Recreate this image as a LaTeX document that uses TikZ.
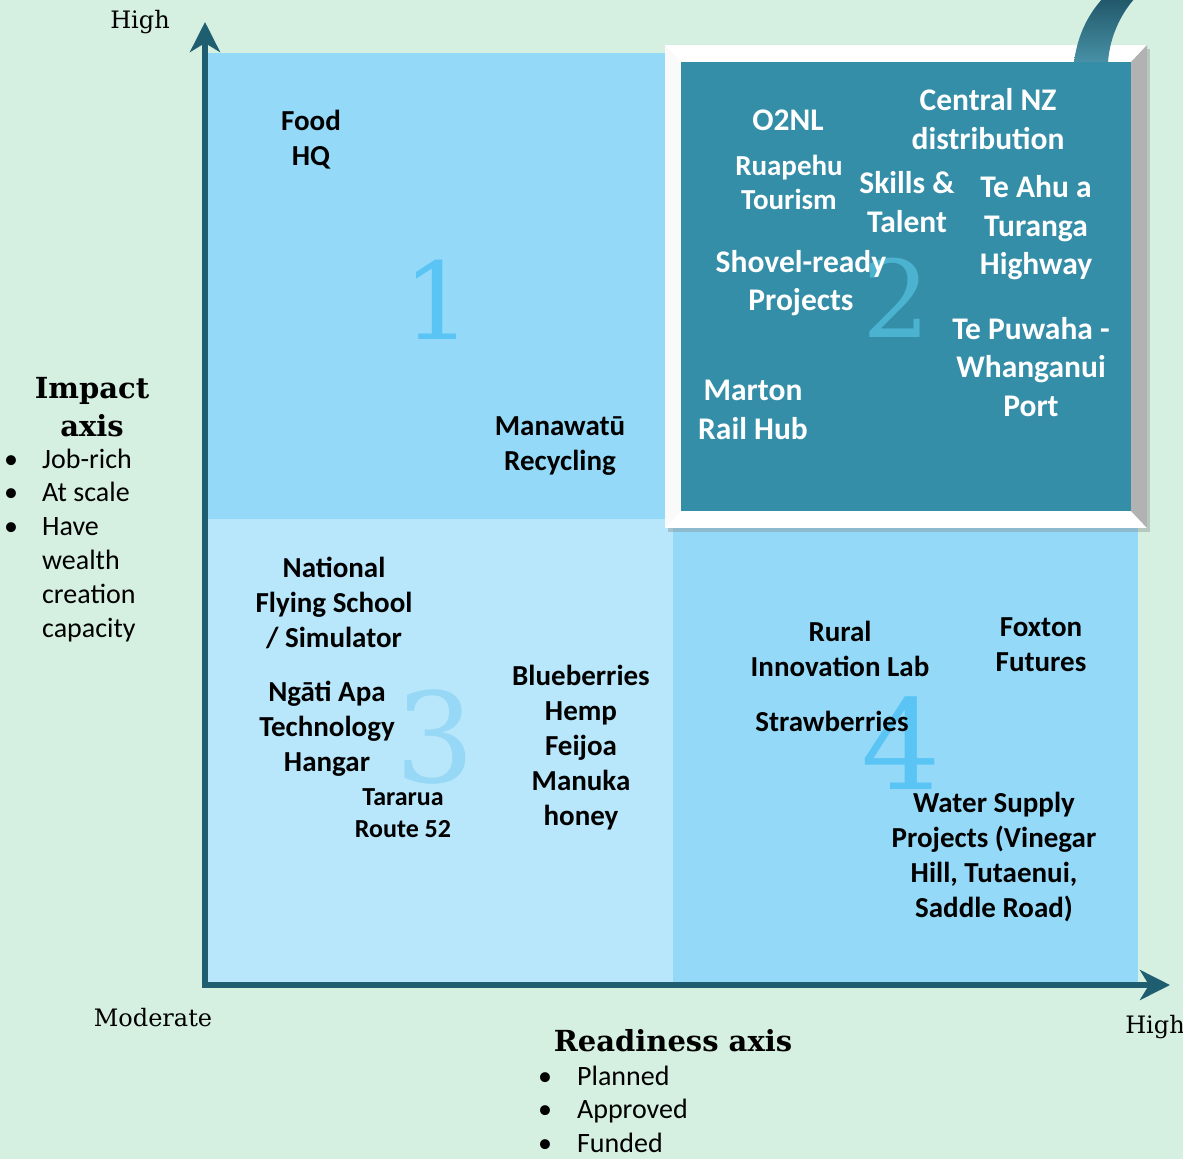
\documentclass[tikz,border=0pt]{standalone}
\usepackage{fontspec}
\setmainfont{Carlito}
\newfontfamily\georgia{DejaVu Serif}
\usetikzlibrary{arrows.meta,shadows}

\definecolor{mint}{RGB}{213,240,225}
\definecolor{qone}{RGB}{148,218,248}
\definecolor{qthree}{RGB}{184,230,250}
\definecolor{qteal}{RGB}{52,142,168}
\definecolor{axisteal}{RGB}{31,94,112}
\definecolor{bevelgray}{RGB}{178,178,178}
\definecolor{numone}{RGB}{90,196,245}
\definecolor{numtwo}{RGB}{75,178,208}
\definecolor{numthree}{RGB}{150,216,246}
\definecolor{arcdark}{RGB}{32,86,104}
\definecolor{arclight}{RGB}{72,145,166}

\tikzset{
  lbl/.style={align=center, inner sep=0pt, font=\bfseries\fontsize{29}{35}\selectfont},
  lblsmall/.style={lbl, font=\bfseries\fontsize{26}{32}\selectfont},
  lbltwo/.style={lbl, text=white, font=\bfseries\fontsize{31.5}{38.5}\selectfont},
  bignum/.style={inner sep=0pt, font=\georgia\fontsize{107}{107}\selectfont},
  axislbl/.style={inner sep=0pt, font=\georgia\fontsize{24}{28}\selectfont},
  axistitle/.style={align=center, inner sep=0pt, font=\georgia\bfseries\fontsize{29}{38}\selectfont},
  bullets/.style={inner sep=0pt, anchor=base west, font=\fontsize{28}{33.8}\selectfont},
  axisline/.style={draw=axisteal, line width=5.5pt,
    {Stealth[length=30pt,width=30pt,inset=9pt]}-{Stealth[length=30pt,width=30pt,inset=9pt]}},
}

\begin{document}
\begin{tikzpicture}[x=1pt, y=-1pt]
  \useasboundingbox[fill=mint] (0,0) rectangle (1183,1159);

  % quadrants
  \fill[qone] (205,53) rectangle (665,519);
  \fill[qthree] (205,519) rectangle (673,985);
  \fill[qone] (673,519) rectangle (1138,985);

  % quadrant 2 frame
  \fill[white, drop shadow={shadow xshift=3pt, shadow yshift=-4pt, opacity=0.35}] (665,45) rectangle (1147,528);
  \fill[bevelgray] (1131,62) -- (1147,45) -- (1147,528) -- (1131,511) -- cycle;
  \fill[gray!4] (665,45) -- (681,62) -- (681,511) -- (665,528) -- cycle;
  \fill[qteal] (681,62) rectangle (1131,511);
  \shade[top color=arcdark, bottom color=arclight]
    (1074,62) .. controls (1078,32) and (1090,12) .. (1104,-3) -- (1136,-3)
    .. controls (1122,12) and (1110,35) .. (1108,62) -- cycle;

  % axes
  \coordinate (origin) at (205,985);
  \coordinate (ytip) at (205,22);
  \coordinate (xtip) at (1170,985);
  \draw[axisline] (ytip) -- (origin) -- (xtip);

  % quadrant numbers
  \node[bignum, text=numone] (numone) at (438,300) {1};
  \node[bignum, text=numtwo] (numtwo) at (897,298) {2};
  \node[bignum, text=numthree, font=\georgia\fontsize{125}{125}\selectfont] (numthree) at (435,737) {3};
  \node[bignum, text=numone, font=\georgia\fontsize{125}{125}\selectfont] (numfour) at (901,743) {4};

  % quadrant 1
  \node[lbl] (foodhq) at (311,140) {Food\\HQ};
  \node[lbl] (recycling) at (560,446) {Manawatū\\Recycling};

  % quadrant 2
  \node[lbltwo] (otnl) at (788,120) {O2NL};
  \node[lbltwo] (centralnz) at (988,119) {Central NZ\\distribution};
  \node[lbl, text=white, font=\bfseries\fontsize{29}{34}\selectfont] (ruapehu) at (789,182) {Ruapehu\\Tourism};
  \node[lbltwo] (skills) at (907,202) {Skills \&\\Talent};
  \node[lbltwo] (teahu) at (1036,228) {Te Ahu a\\Turanga\\Highway};
  \node[lbltwo] (shovel) at (801,283) {Shovel-ready\\Projects};
  \node[lbltwo] (tepuwaha) at (1031,367) {Te Puwaha -\\Whanganui\\Port};
  \node[lbltwo] (marton) at (753,410) {Marton\\Rail Hub};

  % quadrant 3
  \node[lbl] (flying) at (334,603) {National\\Flying School\\/ Simulator};
  \node[lbl] (ngatiapa) at (327,729) {Ngāti Apa\\Technology\\Hangar};
  \node[lblsmall] (tararua) at (403,813) {Tararua\\Route 52};
  \node[lbl] (berries) at (581,748) {Blueberries\\Hemp\\Feijoa\\Manuka\\honey};

  % quadrant 4
  \node[lbl] (rural) at (840,649) {Rural\\Innovation Lab};
  \node[lbl] (foxton) at (1041,645) {Foxton\\Futures};
  \node[lbl] (straw) at (832,721) {Strawberries};
  \node[lbl] (water) at (994,857) {Water Supply\\Projects (Vinegar\\Hill, Tutaenui,\\Saddle Road)};

  % axis labels
  \node[axislbl] (yhigh) at (140,22) {High};
  \node[axislbl] (moderate) at (153,1018) {Moderate};
  \node[axislbl] (xhigh) at (1155,1027) {High};
  \node[axistitle] (impact) at (92,407) {Impact\\axis};
  \node[bullets] (impactlist) at (4,468) {\begin{tabular}[t]{@{}l@{\hspace{24pt}}l@{}}
    \textbullet & Job-rich\\ \textbullet & At scale\\ \textbullet & Have\\
    & wealth\\ & creation\\ & capacity\end{tabular}};
  \node[axistitle] (readiness) at (673,1041) {Readiness axis};
  \node[bullets] (readylist) at (538,1085) {\begin{tabular}[t]{@{}l@{\hspace{25pt}}l@{}}
    \textbullet & Planned\\ \textbullet & Approved\\ \textbullet & Funded\end{tabular}};
\end{tikzpicture}
\end{document}
